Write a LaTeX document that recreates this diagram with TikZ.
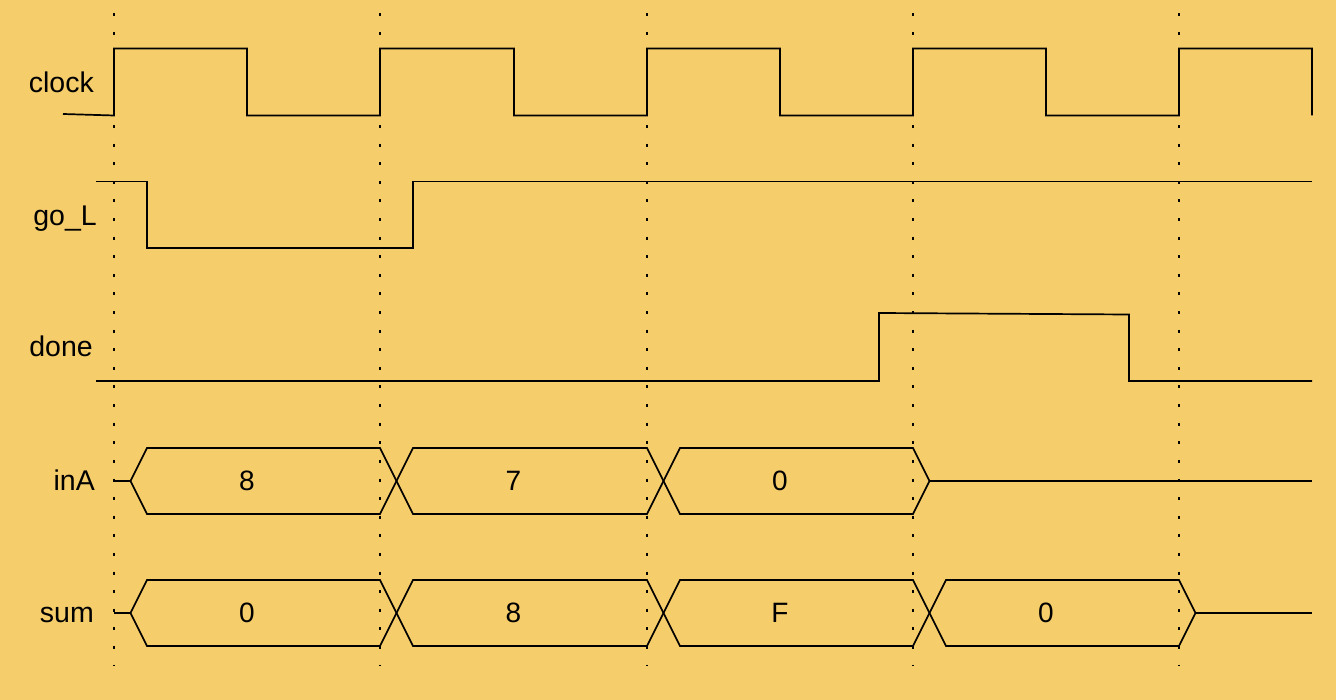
\documentclass[tikz,border=0pt]{standalone}
\usepackage{fontspec}
\setmainfont{Liberation Sans}
\definecolor{bgc}{RGB}{245,205,107}
\tikzset{
  sig/.style={line width=1.7pt, line join=miter, black},
  grid/.style={line width=2pt, dash pattern=on 3pt off 15.6pt, black},
  lbl/.style={anchor=base east, inner sep=0pt, font=\fontsize{28.5}{34}\selectfont},
  val/.style={anchor=center, inner sep=0pt, font=\fontsize{28}{34}\selectfont}
}
\begin{document}
\begin{tikzpicture}[x=1pt,y=-1pt]
\fill[bgc] (0,0) rectangle (1336,700);
\useasboundingbox (0,0) rectangle (1336,700);
% dotted grid lines
\foreach \x in {114,380,647,913,1179} {
  \draw[grid] (\x,13.5) -- (\x,666);
}
% labels
\node[lbl] (lclock) at (94,92.5) {clock};
\node[lbl] (lgo) at (97,225.5) {go\_L};
\node[lbl] (ldone) at (93,357) {done};
\node[lbl] (linA) at (95,490.5) {inA};
\node[lbl] (lsum) at (94,622.5) {sum};
% clock
\draw[sig] (63,114) -- (114,115.5) -- (114,48.5)
  -- (247,48.5) -- (247,115.5) -- (380,115.5) -- (380,48.5)
  -- (514,48.5) -- (514,115.5) -- (647,115.5) -- (647,48.5)
  -- (780,48.5) -- (780,115.5) -- (913,115.5) -- (913,48.5)
  -- (1046,48.5) -- (1046,115.5) -- (1179,115.5) -- (1179,48.5)
  -- (1312,48.5) -- (1312,115.5);
% go_L
\draw[sig] (96,181.5) -- (147,181.5) -- (147,248) -- (413,248) -- (413,181.5) -- (1312,181.5);
% done
\draw[sig] (96,381) -- (879,381) -- (879,313) -- (1129,314.5) -- (1129,381) -- (1312,381);
% inA bus
\draw[sig] (114,481) -- (130.5,481);
\foreach \a/\b in {114/380, 380/647, 647/913} {
  \draw[sig] (\a+16.5,481) -- (\a+33,448) -- (\b,448) -- (\b+16.5,481) -- (\b,514) -- (\a+33,514) -- cycle;
}
\draw[sig] (929.5,481) -- (1312,481);
\node[val] (a1) at (247,481) {8};
\node[val] (a2) at (513.5,481) {7};
\node[val] (a3) at (780,481) {0};
% sum bus
\draw[sig] (114,613) -- (130.5,613);
\foreach \a/\b in {114/380, 380/647, 647/913, 913/1179} {
  \draw[sig] (\a+16.5,613) -- (\a+33,580) -- (\b,580) -- (\b+16.5,613) -- (\b,646) -- (\a+33,646) -- cycle;
}
\draw[sig] (1195.5,613) -- (1312,613);
\node[val] (s1) at (247,613) {0};
\node[val] (s2) at (513.5,613) {8};
\node[val] (s3) at (780,613) {F};
\node[val] (s4) at (1046,613) {0};
\end{tikzpicture}
\end{document}
